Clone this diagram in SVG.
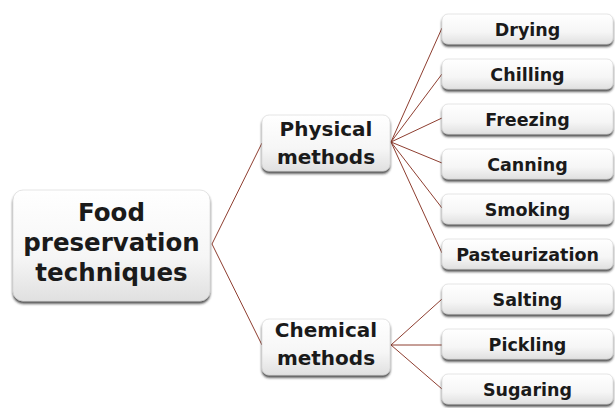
<svg xmlns="http://www.w3.org/2000/svg" width="615" height="408" viewBox="0 0 615 408">
<defs>
<linearGradient id="g" x1="0" y1="0" x2="0" y2="1">
<stop offset="0" stop-color="#ffffff"/>
<stop offset="0.6" stop-color="#f6f6f6"/>
<stop offset="1" stop-color="#e0e0e0"/>
</linearGradient>
<filter id="sh" x="-10%" y="-20%" width="120%" height="150%">
<feDropShadow dx="0" dy="2.5" stdDeviation="0.8" flood-color="#222222" flood-opacity="0.8"/>
</filter>
</defs>
<style>
.box{fill:url(#g);stroke:#d4d4d4;stroke-width:0.6;filter:url(#sh)}
.t{font-family:"DejaVu Sans","Liberation Sans",sans-serif;font-weight:bold;fill:#1a1a1a;text-anchor:middle}
.root{font-size:24.5px}
.mid{font-size:20px}
.leaf{font-size:17.5px}
.c{stroke:#8e3e30;stroke-width:1;fill:none}
</style>
<rect width="615" height="408" fill="#ffffff"/>
<g id="connectors">
<path class="c" d="M212,244 L262,143 M212,244 L262,345"/>
<path class="c" d="M391,142 L442,28 M391,142 L442,74 M391,142 L442,118 M391,142 L442,163 M391,142 L442,208 M391,142 L442,253"/>
<path class="c" d="M391,345 L442,299 M391,345 L442,345 M391,345 L442,389"/>
</g>
<g id="root">
<rect class="box" x="13" y="190" width="197" height="111" rx="10"/>
<text class="t root" x="111.5" y="221">Food</text>
<text class="t root" x="111.5" y="251">preservation</text>
<text class="t root" x="111.5" y="281">techniques</text>
</g>
<g id="physical">
<rect class="box" x="262" y="115" width="128" height="56" rx="7"/>
<text class="t mid" x="326" y="136">Physical</text>
<text class="t mid" x="326" y="164">methods</text>
</g>
<g id="chemical">
<rect class="box" x="262" y="319" width="128" height="56" rx="7"/>
<text class="t mid" x="326" y="337">Chemical</text>
<text class="t mid" x="326" y="365">methods</text>
</g>
<g id="drying"><rect class="box" x="442" y="14" width="171" height="30" rx="6"/><text class="t leaf" x="527.5" y="36">Drying</text></g>
<g id="chilling"><rect class="box" x="442" y="59" width="171" height="30" rx="6"/><text class="t leaf" x="527.5" y="81">Chilling</text></g>
<g id="freezing"><rect class="box" x="442" y="104" width="171" height="30" rx="6"/><text class="t leaf" x="527.5" y="126">Freezing</text></g>
<g id="canning"><rect class="box" x="442" y="149" width="171" height="30" rx="6"/><text class="t leaf" x="527.5" y="171">Canning</text></g>
<g id="smoking"><rect class="box" x="442" y="194" width="171" height="30" rx="6"/><text class="t leaf" x="527.5" y="216">Smoking</text></g>
<g id="pasteurization"><rect class="box" x="442" y="239" width="171" height="30" rx="6"/><text class="t leaf" x="527.5" y="261">Pasteurization</text></g>
<g id="salting"><rect class="box" x="442" y="284" width="171" height="30" rx="6"/><text class="t leaf" x="527.5" y="306">Salting</text></g>
<g id="pickling"><rect class="box" x="442" y="329" width="171" height="30" rx="6"/><text class="t leaf" x="527.5" y="351">Pickling</text></g>
<g id="sugaring"><rect class="box" x="442" y="374" width="171" height="30" rx="6"/><text class="t leaf" x="527.5" y="396">Sugaring</text></g>
</svg>
